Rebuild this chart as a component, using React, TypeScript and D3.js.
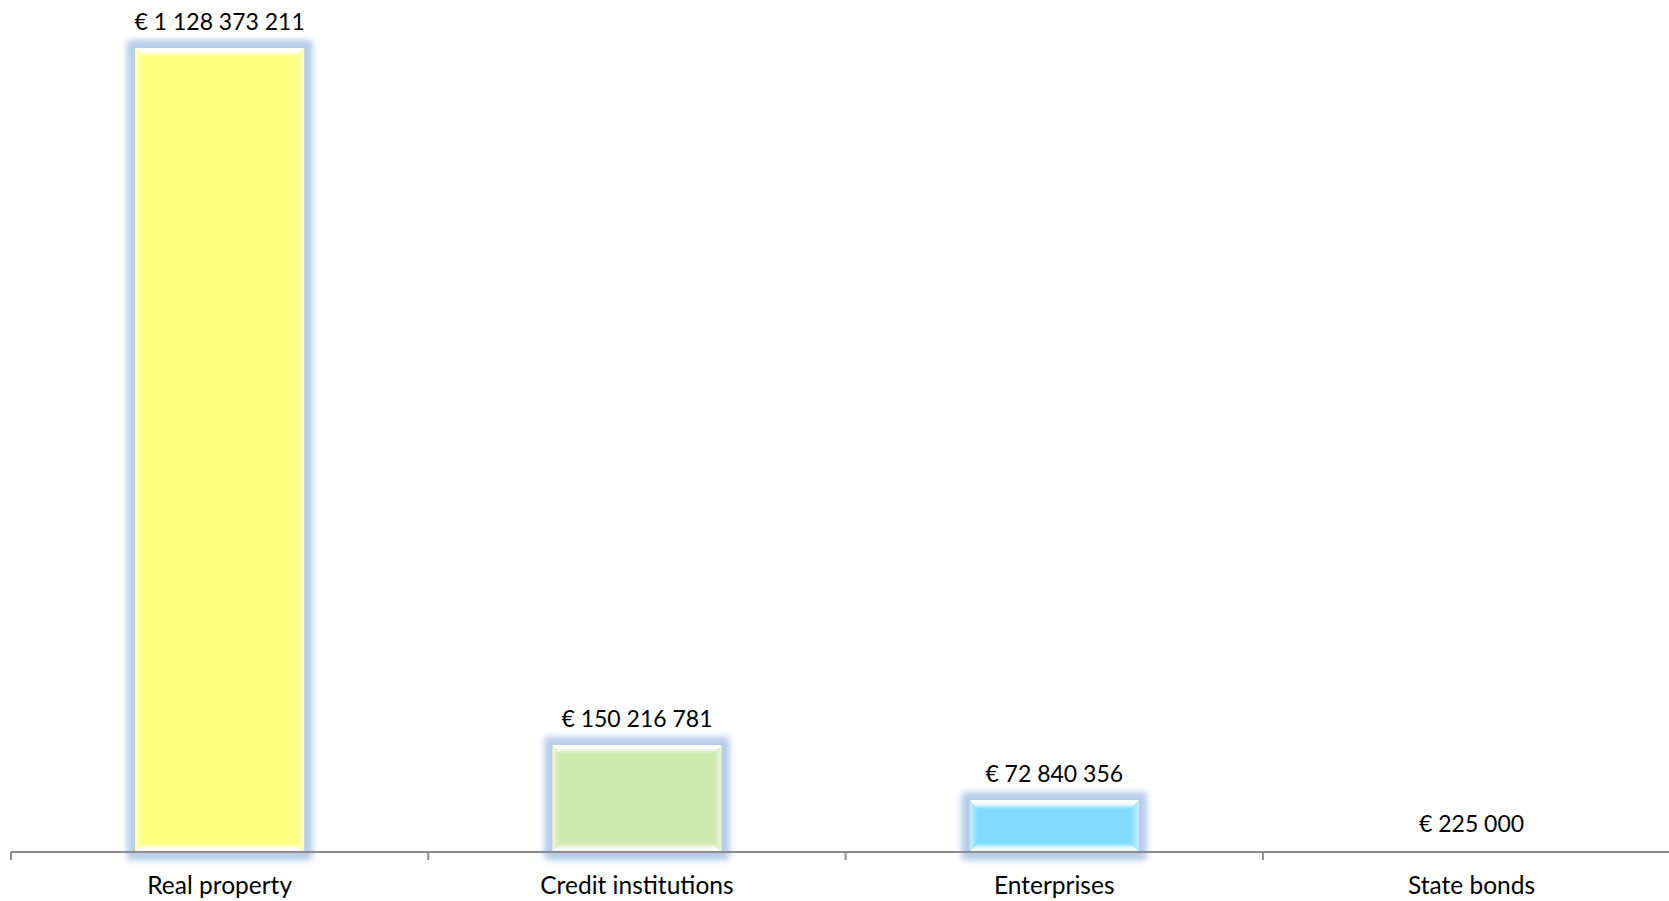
import React from 'react';
import * as d3 from 'd3';

const categories = ['Real property', 'Credit institutions', 'Enterprises', 'State bonds'];
const amounts = [1128373211, 150216781, 72840356, 225000];
const valueLabels = ['€ 1 128 373 211', '€ 150 216 781', '€ 72 840 356', '€ 225 000'];
const barColors = ['#ffff80', '#cde9ad', '#80dbfc'];

const width = 1669;
const height = 901;
const axisY = 852;
const left = 11;
const band = 417.3;

const x = d3.scaleBand<string>()
  .domain(categories)
  .range([left, left + band * categories.length])
  .paddingInner(0.595)
  .paddingOuter(0.2975);

const y = d3.scaleLinear().domain([0, 1.2e9]).range([axisY, axisY - 855]);

const font = "Lato, 'Open Sans', sans-serif";

const App = () => {
  const bw = x.bandwidth();
  return (
    <svg width={width} height={height} style={{ position: 'absolute', left: 0, top: 0 }}>
      <defs>
        <filter id="glow" x="-20%" y="-20%" width="140%" height="140%">
          <feGaussianBlur stdDeviation="3" />
        </filter>
        <linearGradient id="bevTop" x1="0" y1="0" x2="0" y2="1">
          <stop offset="0" stopColor="#fff" stopOpacity="1" />
          <stop offset="0.4" stopColor="#fff" stopOpacity="0.9" />
          <stop offset="1" stopColor="#fff" stopOpacity="0" />
        </linearGradient>
        <linearGradient id="bevBot" x1="0" y1="1" x2="0" y2="0">
          <stop offset="0" stopColor="#fff" stopOpacity="1" />
          <stop offset="0.4" stopColor="#fff" stopOpacity="0.9" />
          <stop offset="1" stopColor="#fff" stopOpacity="0" />
        </linearGradient>
        <linearGradient id="bevL" x1="0" y1="0" x2="1" y2="0">
          <stop offset="0" stopColor="#fff" stopOpacity="0.6" />
          <stop offset="1" stopColor="#fff" stopOpacity="0" />
        </linearGradient>
        <linearGradient id="bevR" x1="1" y1="0" x2="0" y2="0">
          <stop offset="0" stopColor="#fff" stopOpacity="0.6" />
          <stop offset="1" stopColor="#fff" stopOpacity="0" />
        </linearGradient>
      </defs>
      <rect width={width} height={height} fill="#fff" />
      {categories.map((c, i) => {
        const x0 = x(c)!;
        const x1 = x0 + bw;
        const y0 = y(amounts[i]);
        const y1 = axisY;
        const h = y1 - y0;
        if (h < 2) return null;
        const bt = Math.min(9, h / 4);
        const bs = 8;
        return (
          <g key={c}>
            <rect x={x0 - 8} y={y0 - 8} width={bw + 16} height={h + 16} fill="#bcd0eb" filter="url(#glow)" />
            <rect x={x0 - 5} y={y0 - 5} width={bw + 10} height={h + 10} fill="#b6cbe8" filter="url(#glow)" opacity={0.8} />
            <rect x={x0} y={y0} width={bw} height={h} fill={barColors[i]} />
            <path d={`M${x0},${y0}L${x0 + bs},${y0 + bt}L${x0 + bs},${y1 - bt}L${x0},${y1}Z`} fill="url(#bevL)" />
            <path d={`M${x1},${y0}L${x1 - bs},${y0 + bt}L${x1 - bs},${y1 - bt}L${x1},${y1}Z`} fill="url(#bevR)" />
            <path d={`M${x0},${y0}L${x1},${y0}L${x1 - bs},${y0 + bt}L${x0 + bs},${y0 + bt}Z`} fill="url(#bevTop)" />
            <path d={`M${x0},${y1}L${x1},${y1}L${x1 - bs},${y1 - bt}L${x0 + bs},${y1 - bt}Z`} fill="url(#bevBot)" />
          </g>
        );
      })}
      <line x1={left} x2={width} y1={axisY} y2={axisY} stroke="#8c8c8c" strokeWidth={2} />
      {d3.range(categories.length).map(i => (
        <line key={i} x1={left + band * i} x2={left + band * i} y1={axisY} y2={axisY + 8} stroke="#8c8c8c" strokeWidth={2} />
      ))}
      {categories.map((c, i) => (
        <text key={'v' + c} x={x(c)! + bw / 2} y={i === 3 ? axisY - 20 : y(amounts[i]) - 18}
          textAnchor="middle" fontFamily={font} fontSize={23} fill="#000">{valueLabels[i]}</text>
      ))}
      {categories.map(c => (
        <text key={'c' + c} x={x(c)! + bw / 2} y={894} textAnchor="middle" fontFamily={font} fontSize={24.5} fill="#000">{c}</text>
      ))}
    </svg>
  );
};

export default App;
